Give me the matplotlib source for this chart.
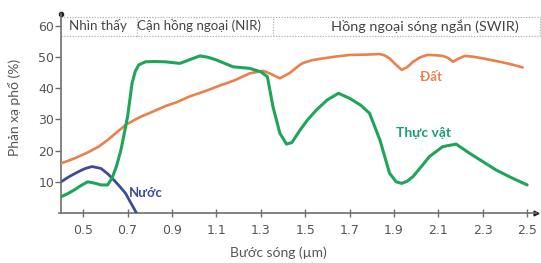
import matplotlib
matplotlib.use("Agg")
import matplotlib.pyplot as plt

# ---- data ----
soil_x = [0.40, 0.46, 0.52, 0.57, 0.61, 0.65, 0.69, 0.73, 0.76, 0.81, 0.87, 0.92, 0.98, 1.05,
          1.12, 1.18, 1.25, 1.31, 1.34, 1.386, 1.43, 1.476, 1.49, 1.53, 1.58, 1.64, 1.70, 1.77,
          1.837, 1.86, 1.88, 1.91, 1.935, 1.96, 1.986, 2.02, 2.05, 2.09, 2.12, 2.145, 2.166,
          2.19, 2.22, 2.26, 2.30, 2.35, 2.41, 2.45, 2.48]
soil_y = [15.9, 17.5, 19.4, 21.3, 23.4, 25.8, 28.2, 29.8, 30.9, 32.4, 34.3, 35.5, 37.4, 39.1,
          41.0, 42.5, 44.8, 45.6, 44.8, 43.2, 44.9, 47.5, 48.1, 49.0, 49.6, 50.2, 50.7, 50.8,
          51.0, 50.5, 49.6, 47.5, 45.9, 46.8, 48.5, 50.0, 50.7, 50.6, 50.4, 49.7, 48.5,
          49.5, 50.4, 50.1, 49.6, 48.9, 48.0, 47.3, 46.7]

veg_x = [0.40, 0.43, 0.46, 0.49, 0.52, 0.55, 0.58, 0.61, 0.63, 0.65, 0.67, 0.70, 0.72, 0.735,
         0.75, 0.78, 0.82, 0.87, 0.936, 0.98, 1.026, 1.06, 1.10, 1.175, 1.25, 1.30, 1.33,
         1.355, 1.386, 1.416, 1.44, 1.477, 1.51, 1.55, 1.60, 1.65, 1.70, 1.75, 1.79, 1.837,
         1.88, 1.91, 1.935, 1.96, 1.986, 2.02, 2.06, 2.12, 2.18, 2.24, 2.30, 2.36, 2.43, 2.50]
veg_y = [5.2, 6.2, 7.4, 8.8, 10.0, 9.6, 9.0, 9.0, 11.2, 15.0, 20.2, 30.9, 41.6, 45.5,
         47.5, 48.5, 48.6, 48.5, 48.0, 49.2, 50.4, 50.0, 49.1, 46.9, 46.4, 45.3, 43.7,
         34.1, 25.6, 22.1, 22.6, 26.6, 29.8, 33.0, 36.3, 38.4, 36.8, 34.6, 32.0, 23.4,
         12.8, 10.0, 9.5, 10.2, 11.7, 14.6, 18.1, 21.3, 22.1, 19.2, 16.5, 13.8, 11.3, 9.0]

water_x = [0.40, 0.44, 0.48, 0.51, 0.54, 0.58, 0.61, 0.63, 0.66, 0.69, 0.715, 0.74]
water_y = [10.0, 11.8, 13.3, 14.3, 14.9, 14.3, 12.6, 11.2, 8.9, 6.4, 3.2, 0.0]

x_ticks = [0.5, 0.7, 0.9, 1.1, 1.3, 1.5, 1.7, 1.9, 2.1, 2.3, 2.5]
y_ticks = [10, 20, 30, 40, 50, 60]

band_edges = [0.40, 0.742, 1.355, 2.56]
band_names = ["Nhìn thấy", "Cận hồng ngoại (NIR)", "Hồng ngoại sóng ngắn (SWIR)"]
band_text_x = [0.565, 1.02, 2.04]
band_font = [9.6, 9.6, 10.4]

# ---- figure ----
fig = plt.figure(figsize=(5.41, 2.63), dpi=100)
ax = fig.add_axes([61 / 541, 50 / 263, 475 / 541, 199.5 / 263])
ax.set_xlim(0.4, 2.54)
ax.set_ylim(0, 64)

c_soil = "#e8814a"
c_veg = "#1fa55a"
c_water = "#3d4c99"
axis_c = "#6e6e6e"
txt_c = "#555555"

ax.plot(soil_x, soil_y, color=c_soil, lw=1.9, solid_capstyle="round", zorder=3)
ax.plot(veg_x, veg_y, color=c_veg, lw=2.2, solid_capstyle="round", zorder=4)
ax.plot(water_x, water_y, color=c_water, lw=2.0, solid_capstyle="round", zorder=3)

ax.text(2.067, 43.6, "Đất", color=c_soil, fontsize=9.5, fontweight="bold",
        ha="center", va="center", family="Lato")
ax.text(2.035, 25.7, "Thực vật", color="#1a9e78", fontsize=10, fontweight="bold",
        ha="center", va="center", family="Lato")
ax.text(0.78, 6.3, "Nước", color=c_water, fontsize=9.5, fontweight="bold",
        ha="center", va="center", family="Lato")

# band header
band_lo, band_hi = 56.8, 62.9
ln = dict(color="#b0b0b0", lw=0.9, ls=(0, (1, 1.2)), clip_on=False, zorder=2)
ax.plot([band_edges[0], band_edges[-1]], [band_hi, band_hi], **ln)
ax.plot([band_edges[0], band_edges[-1]], [band_lo, band_lo], **ln)
for e in band_edges[1:]:
    ax.plot([e, e], [band_lo, band_hi], **ln)
for name, tx, fs in zip(band_names, band_text_x, band_font):
    ax.text(tx, 60.0, name, color="#444444", fontsize=fs, ha="center", va="center",
            family="Lato", clip_on=False)

# axes styling
for s in ["top", "right"]:
    ax.spines[s].set_visible(False)
for s in ["left", "bottom"]:
    ax.spines[s].set_color(axis_c)
    ax.spines[s].set_linewidth(1.2)
ax.spines["bottom"].set_bounds(0.39, 2.54)

ax.set_xticks(x_ticks)
ax.set_xticklabels([f"{v:.1f}" for v in x_ticks])
ax.set_yticks(y_ticks)
ax.set_yticklabels([str(v) for v in y_ticks])
ax.tick_params(axis="x", direction="inout", length=6, width=1, color=axis_c,
               labelcolor=txt_c, labelsize=9, pad=5)
ax.tick_params(axis="y", direction="out", length=4, width=1, color=axis_c,
               labelcolor=txt_c, labelsize=9, pad=1)

ax.plot([1], [0], marker=">", ms=3.5, color="#222222", transform=ax.transAxes, clip_on=False)
ax.plot([0], [1], marker="o", ms=3, color="#222222", transform=ax.transAxes, clip_on=False)

ax.set_xlabel("Bước sóng (µm)", color=txt_c, fontsize=10, family="Lato")
ax.xaxis.set_label_coords(0.457, -0.17)
ax.set_ylabel("Phản xạ phổ (%)", color=txt_c, fontsize=10, family="Lato")
ax.yaxis.set_label_coords(-0.085, 0.53)

fig.savefig("out.png", dpi=100)
